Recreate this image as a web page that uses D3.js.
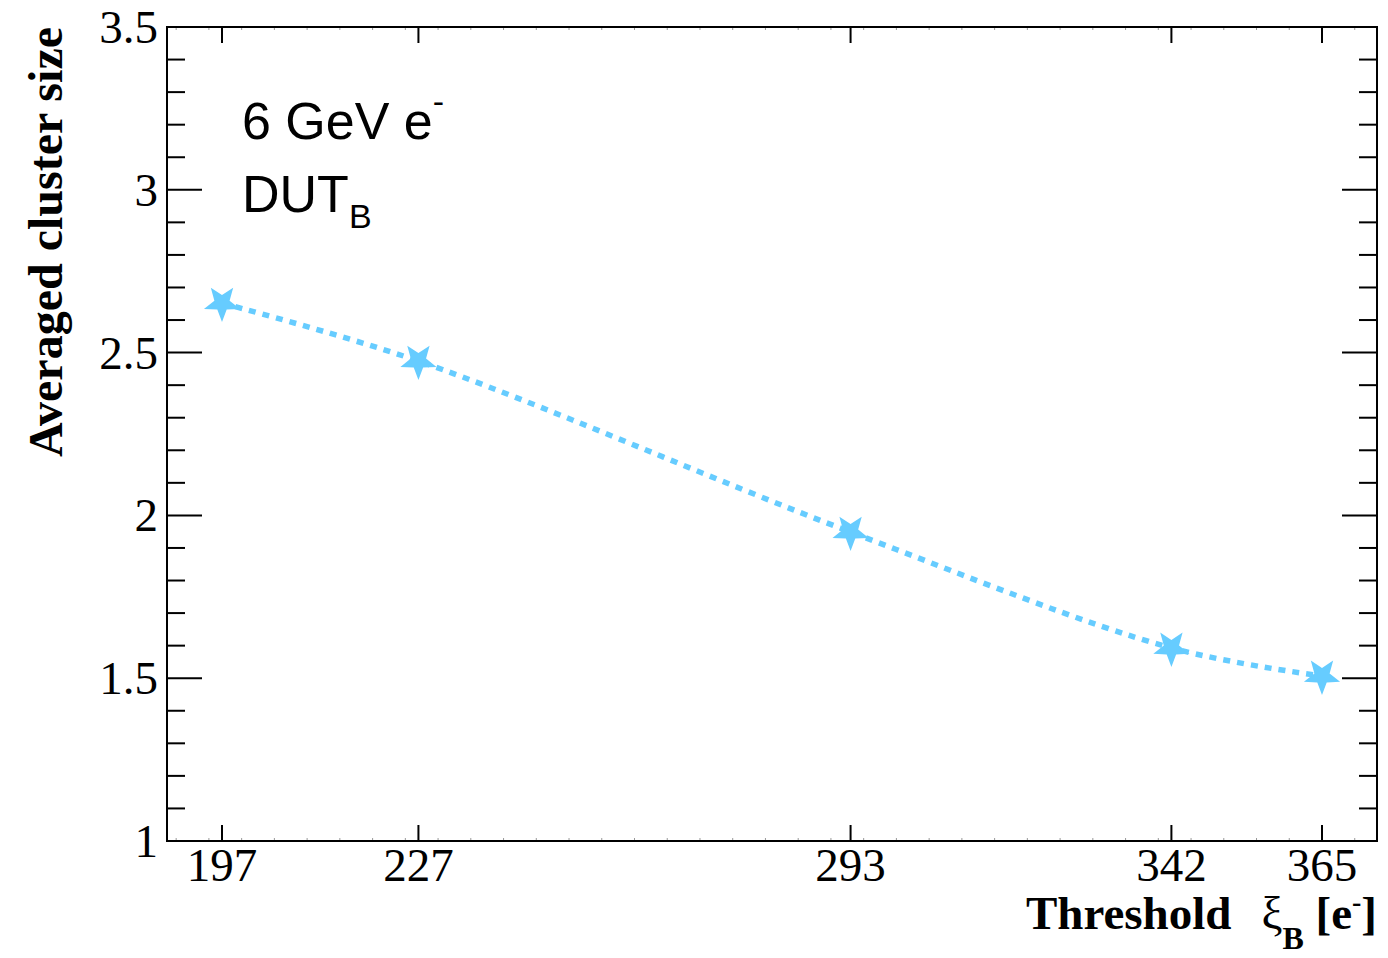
<!DOCTYPE html>
<html>
<head>
<meta charset="utf-8">
<script src="https://cdn.jsdelivr.net/npm/d3@7"></script>
<style>
body { margin: 0; background: #fff; }
</style>
</head>
<body>
<div id="chart"></div>
<script>
const thresholds = [197, 227, 293, 342, 365];
const clusterSize = [2.652, 2.474, 1.949, 1.593, 1.507];
const yTicks = [1, 1.5, 2, 2.5, 3, 3.5];
const xTickLabels = ["197", "227", "293", "342", "365"];

const width = 1388, height = 958;
const margin = { left: 167, right: 11, top: 27, bottom: 117 };

const svg = d3.select("#chart").append("svg")
    .attr("width", width)
    .attr("height", height);

const x = d3.scaleLinear().domain([188.6, 373.4]).range([margin.left, width - margin.right]);
const y = d3.scaleLinear().domain([1, 3.5]).range([height - margin.bottom, margin.top]);

const serif = "'Liberation Serif', 'DejaVu Serif', serif";
const sans = "'Liberation Sans', Arial, sans-serif";

// tiny minor ticks on the x axis
const xMinor = d3.range(190, 373, 5);
const gx = svg.append("g");
for (const v of xMinor) {
    gx.append("line").attr("x1", x(v)).attr("x2", x(v))
        .attr("y1", y(1)).attr("y2", y(1) - 3).attr("stroke", "#999").attr("stroke-width", 1);
    gx.append("line").attr("x1", x(v)).attr("x2", x(v))
        .attr("y1", y(3.5)).attr("y2", y(3.5) + 3).attr("stroke", "#999").attr("stroke-width", 1);
}

// x major ticks at the measured thresholds
thresholds.forEach((t, i) => {
    gx.append("line").attr("x1", x(t)).attr("x2", x(t))
        .attr("y1", y(1)).attr("y2", y(1) - 16).attr("stroke", "#000").attr("stroke-width", 2);
    gx.append("line").attr("x1", x(t)).attr("x2", x(t))
        .attr("y1", y(3.5)).attr("y2", y(3.5) + 16).attr("stroke", "#000").attr("stroke-width", 2);
    gx.append("text").attr("x", x(t)).attr("y", y(1) + 40)
        .attr("text-anchor", "middle")
        .style("font-family", serif).style("font-size", "47px")
        .text(xTickLabels[i]);
});

// y ticks: major every 0.5, minor every 0.1
const gy = svg.append("g");
const yMinor = d3.range(10, 36).map(d => d / 10);
for (const v of yMinor) {
    const major = Math.abs(v * 2 - Math.round(v * 2)) < 1e-6;
    const len = major ? 35 : 18;
    gy.append("line").attr("x1", x.range()[0]).attr("x2", x.range()[0] + len)
        .attr("y1", y(v)).attr("y2", y(v)).attr("stroke", "#000").attr("stroke-width", 2);
    gy.append("line").attr("x1", x.range()[1]).attr("x2", x.range()[1] - len)
        .attr("y1", y(v)).attr("y2", y(v)).attr("stroke", "#000").attr("stroke-width", 2);
}
yTicks.forEach(v => {
    gy.append("text").attr("x", 158).attr("y", y(v) + 16)
        .attr("text-anchor", "end")
        .style("font-family", serif).style("font-size", "47px")
        .text(v);
});

// frame
svg.append("rect")
    .attr("x", x.range()[0]).attr("y", y(3.5))
    .attr("width", x.range()[1] - x.range()[0])
    .attr("height", y(1) - y(3.5))
    .attr("fill", "none").attr("stroke", "#000").attr("stroke-width", 2);

// data line
const color = "#66ccff";
const pts = thresholds.map((t, i) => [t, clusterSize[i]]);
svg.append("path")
    .datum(pts)
    .attr("d", d3.line().x(d => x(d[0])).y(d => y(d[1])).curve(d3.curveCatmullRom))
    .attr("fill", "none")
    .attr("stroke", color)
    .attr("stroke-width", 5.5)
    .attr("stroke-dasharray", "7,7");

// star markers (point down)
function starPath(r1, r2) {
    const p = [];
    for (let k = 0; k < 10; k++) {
        const r = k % 2 === 0 ? r1 : r2;
        const a = Math.PI / 2 + k * Math.PI / 5;
        p.push([r * Math.cos(a), r * Math.sin(a)]);
    }
    return "M" + p.map(d => d.join(",")).join("L") + "Z";
}
svg.selectAll(".star").data(pts).join("path")
    .attr("class", "star")
    .attr("d", starPath(19, 8))
    .attr("transform", d => "translate(" + x(d[0]) + "," + y(d[1]) + ")")
    .attr("fill", color);

// labels inside the frame
const lab = svg.append("text").attr("x", 242).attr("y", 139)
    .style("font-family", sans).style("font-size", "52px");
lab.append("tspan").text("6 GeV e");
lab.append("tspan").attr("dy", -26).style("font-size", "34px").text("-");

const dut = svg.append("text").attr("x", 242).attr("y", 212)
    .style("font-family", sans).style("font-size", "52px");
dut.append("tspan").text("DUT");
dut.append("tspan").attr("dy", 16).style("font-size", "34px").text("B");

// axis titles
const xt = svg.append("text").attr("x", width - margin.right).attr("y", 929)
    .attr("text-anchor", "end")
    .style("font-family", serif).style("font-size", "47px").style("font-weight", "bold");
xt.append("tspan").text("Threshold");
xt.append("tspan").attr("dx", 30).style("font-weight", "normal").text("ξ");
xt.append("tspan").attr("dy", 20).style("font-size", "32px").text("B");
xt.append("tspan").attr("dy", -20).text(" [e");
xt.append("tspan").attr("dy", -18).style("font-size", "28px").text("-");
xt.append("tspan").attr("dy", 18).text("]");

svg.append("text")
    .attr("transform", "translate(62," + margin.top + ") rotate(-90)")
    .attr("text-anchor", "end")
    .style("font-family", serif).style("font-size", "48px").style("font-weight", "bold")
    .text("Averaged cluster size");
</script>
</body>
</html>
